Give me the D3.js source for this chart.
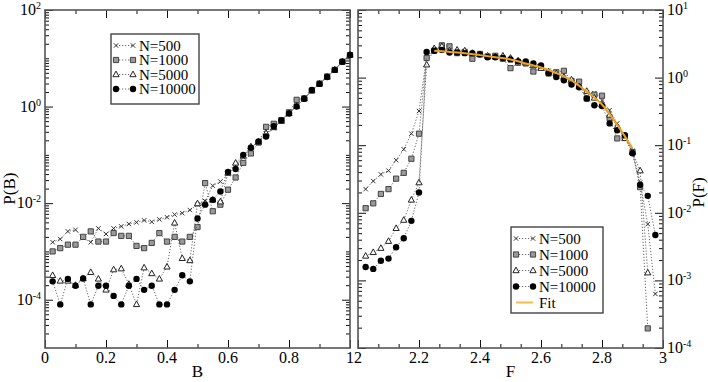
<!DOCTYPE html>
<html>
<head>
<meta charset="utf-8">
<script src="https://cdn.jsdelivr.net/npm/d3@7"></script>
<style>
  html, body { margin: 0; padding: 0; background: #fff; }
  svg { display: block; }
  .axis line { stroke: #111; stroke-width: 1; }
</style>
</head>
<body>
<script>
// ---- left panel: P(B) ----
const B = [0.025, 0.05, 0.075, 0.1, 0.125, 0.15, 0.175, 0.2, 0.225, 0.25,
           0.275, 0.3, 0.325, 0.35, 0.375, 0.4, 0.425, 0.45, 0.475, 0.5,
           0.525, 0.55, 0.575, 0.6, 0.625, 0.65, 0.675, 0.7, 0.725, 0.75,
           0.775, 0.8, 0.825, 0.85, 0.875, 0.9, 0.925, 0.95, 0.975, 1.0];
const PB_500 = [1.55e-3, 1.8e-3, 2.6e-3, 2.8e-3, 1.9e-3, 1.55e-3, 3.0e-3, 2.3e-3, 3.0e-3, 3.3e-3,
                3.7e-3, 4.0e-3, 4.4e-3, 4.1e-3, 4.6e-3, 5.1e-3, 5.8e-3, 6.2e-3, 7.2e-3, 9.3e-3,
                1.1e-2, 2.3e-2, 2.8e-2, 4.0e-2, 6.0e-2, 8.9e-2, 0.14, 0.19, 0.28, 0.355,
                0.50, 0.71, 1.05, 1.45, 2.15, 2.95, 4.1, 5.9, 8.5, 11.7];
const PB_1000 = [1.0e-3, 1.17e-3, 1.38e-3, 1.38e-3, 2.0e-3, 2.6e-3, 1.6e-3, 1.6e-3, 2.4e-3, 2.1e-3,
                 2.1e-3, 1.3e-3, 1.17e-3, 1.5e-3, 2.4e-3, 1.6e-3, 2.0e-3, 1.6e-3, 2.0e-3, 3.2e-3,
                 2.6e-2, 6.8e-3, 9.3e-3, 1.9e-2, 3.4e-2, 6.8e-2, 0.107, 0.18, 0.38, 0.44,
                 0.52, 0.76, 1.38, 1.48, 2.15, 3.0, 4.2, 5.75, 8.5, 11.7];
const PB_5000 = [3.2e-4, 2.45e-4, 2.45e-4, 2.0e-4, 2.75e-4, 3.7e-4, 2.7e-4, 1.6e-4, 4.2e-4, 4.4e-4,
                 2.1e-4, 8e-5, 4.6e-4, 3.5e-4, 2.7e-4, 4.8e-4, 3.9e-3, 7.2e-4, 6.5e-4, 9.8e-3,
                 1.0e-2, 1.17e-2, 1.07e-2, 4.2e-2, 6.8e-2, 9.5e-2, 0.148, 0.186, 0.28, 0.37,
                 0.50, 0.72, 1.02, 1.45, 2.15, 2.95, 4.1, 5.75, 8.5, 11.7];
const PB_10000 = [2.4e-4, 8e-5, 2.7e-4, 1.95e-4, 2.75e-4, 8e-5, 1.95e-4, 1.95e-4, 1.2e-4, 8e-5,
                  1.95e-4, 2.7e-4, 1.6e-4, 1.95e-4, 8e-5, 8e-5, 1.6e-4, 3.2e-4, 2.4e-4, 4.8e-3,
                  9.3e-3, 1.17e-2, 1.74e-2, 4.4e-2, 5.1e-2, 0.10, 0.14, 0.19, 0.24, 0.39,
                  0.52, 0.72, 1.0, 1.45, 2.2, 2.95, 4.1, 5.75, 8.5, 11.7];

// ---- right panel: P(F) ----
const F = [2.025, 2.05, 2.075, 2.1, 2.125, 2.15, 2.175, 2.2, 2.225, 2.25,
           2.275, 2.3, 2.325, 2.35, 2.375, 2.4, 2.425, 2.45, 2.475, 2.5,
           2.525, 2.55, 2.575, 2.6, 2.625, 2.65, 2.675, 2.7, 2.725, 2.75,
           2.775, 2.8, 2.825, 2.85, 2.875, 2.9, 2.925, 2.95, 2.975];
const PF_500 = [0.0224, 0.0295, 0.037, 0.042, 0.060, 0.087, 0.148, 0.32, 2.0, 2.63,
                2.75, 2.4, 2.4, 2.3, 2.2, 2.15, 2.1, 2.0, 1.95, 1.8,
                1.74, 1.62, 1.48, 1.41, 1.26, 1.12, 1.0, 0.89, 0.76, 0.60,
                0.59, 0.46, 0.33, 0.21, 0.14, 0.083, 0.028, 0.0068, 0.00063];
const PF_1000 = [0.0117, 0.0138, 0.019, 0.0224, 0.032, 0.039, 0.063, 0.148, 1.95, 2.5,
                 3.0, 2.9, 2.3, 2.4, 1.9, 2.24, 2.05, 2.1, 1.9, 1.38,
                 1.66, 1.62, 1.23, 1.41, 1.15, 1.2, 1.26, 0.89, 0.87, 0.49,
                 0.56, 0.54, 0.25, 0.126, 0.13, 0.079, 0.024, 0.000195];
const PF_5000 = [0.0023, 0.0026, 0.0030, 0.0038, 0.0059, 0.0078, 0.0155, 0.028, 1.55, 2.7,
                 2.9, 2.5, 2.57, 2.5, 2.3, 2.2, 2.1, 2.05, 2.1, 1.95,
                 1.78, 1.66, 1.51, 1.38, 1.23, 1.15, 1.02, 0.93, 0.74, 0.63,
                 0.50, 0.40, 0.28, 0.19, 0.126, 0.079, 0.042, 0.0013];
const PF_10000 = [0.00158, 0.00148, 0.00195, 0.0021, 0.0031, 0.0042, 0.0076, 0.020, 2.4, 2.5,
                  2.57, 2.35, 2.35, 2.3, 2.3, 2.2, 2.0, 2.0, 1.95, 1.86,
                  1.74, 1.74, 1.62, 1.51, 1.17, 1.02, 0.91, 0.79, 0.72, 0.49,
                  0.39, 0.38, 0.21, 0.166, 0.14, 0.076, 0.026, 0.0178, 0.0047];
const FIT_F = [2.25, 2.3, 2.35, 2.4, 2.45, 2.5, 2.55, 2.6, 2.65, 2.7, 2.75, 2.8, 2.85, 2.9];
const FIT_P = [2.5, 2.4, 2.3, 2.15, 2.0, 1.85, 1.62, 1.41, 1.17, 0.91, 0.62, 0.40, 0.20, 0.09];

const SERIES_NAMES = ['N=500', 'N=1000', 'N=5000', 'N=10000'];
const FIT_NAME = 'Fit';
const X_TICKS_B = [0, 0.2, 0.4, 0.6, 0.8, 1];
const X_TICKS_F = [2, 2.2, 2.4, 2.6, 2.8, 3];
const Y_EXP_B = [-4, -2, 0, 2];
const Y_EXP_F = [-4, -3, -2, -1, 0, 1];

const W = 708, H = 382;
const TOP = 10, BOTTOM = 348;
const SERIF = "'Liberation Serif'";

const svg = d3.select('body').append('svg').attr('width', W).attr('height', H);
svg.append('rect').attr('width', W).attr('height', H).attr('fill', '#fff');

const xB = d3.scaleLinear().domain([0, 1]).range([45, 350]);
const yB = d3.scaleLog().domain([1e-5, 1e2]).range([BOTTOM, TOP]);
const xF = d3.scaleLinear().domain([2, 3]).range([358, 663]);
const yF = d3.scaleLog().domain([1e-4, 10]).range([BOTTOM, TOP]);

// marker shapes
const SHAPES = [
  {d: 'M-2.2,-2.2L2.2,2.2M-2.2,2.2L2.2,-2.2', fill: 'none', stroke: '#333', sw: 1},
  {d: 'M-2.6,-2.6h5.2v5.2h-5.2z', fill: '#9a9a9a', stroke: '#444', sw: 1},
  {d: 'M0,-3.4L3.1,2.2L-3.1,2.2Z', fill: '#fff', stroke: '#222', sw: 1},
  {d: 'M3.2,0A3.2,3.2 0 1,1 -3.2,0A3.2,3.2 0 1,1 3.2,0Z', fill: '#000', stroke: 'none', sw: 0}
];

function minorLog(lo, hi) {
  const out = [];
  for (let e = lo; e < hi; e++)
    for (let m = 2; m <= 9; m++) out.push(+(m * Math.pow(10, e)).toPrecision(3));
  return out;
}
function minorLin(lo, hi, step) {
  const out = [];
  for (let v = lo; v <= hi + 1e-9; v += step) out.push(+v.toFixed(4));
  return out;
}

function txt(sel, size) {
  return sel.attr('font-size', size).style('font-family', SERIF).attr('fill', '#000');
}

function tickAxis(gen, tx, ty, vals, size) {
  svg.append('g')
    .attr('class', 'axis')
    .attr('transform', `translate(${tx},${ty})`)
    .call(gen.tickValues(vals).tickSize(size).tickFormat(''))
    .call(g => g.select('.domain').remove());
}

function drawFrame(x, y, xMajor, xMinor, yMajor, yMinor) {
  const [x0, x1] = x.range();
  tickAxis(d3.axisBottom(x), 0, BOTTOM, xMajor, -8);
  tickAxis(d3.axisBottom(x), 0, BOTTOM, xMinor, -4);
  tickAxis(d3.axisTop(x), 0, TOP, xMajor, -8);
  tickAxis(d3.axisTop(x), 0, TOP, xMinor, -4);
  tickAxis(d3.axisLeft(y), x0, 0, yMajor, -8);
  tickAxis(d3.axisLeft(y), x0, 0, yMinor, -4);
  tickAxis(d3.axisRight(y), x1, 0, yMajor, -8);
  tickAxis(d3.axisRight(y), x1, 0, yMinor, -4);
  svg.append('rect')
    .attr('x', x0).attr('y', TOP)
    .attr('width', x1 - x0).attr('height', BOTTOM - TOP)
    .attr('fill', 'none').attr('stroke', '#555').attr('stroke-width', 1.6);
}

function drawSeries(x, y, xs, ys, shape) {
  const pts = xs.map((v, i) => [v, ys[i]]).filter(d => d[1] != null);
  svg.append('path').datum(pts)
    .attr('d', d3.line().x(d => x(d[0])).y(d => y(d[1])))
    .attr('fill', 'none').attr('stroke', '#666')
    .attr('stroke-width', 1).attr('stroke-dasharray', '1.2,1.8');
  svg.append('g').selectAll('path').data(pts).join('path')
    .attr('transform', d => `translate(${x(d[0])},${y(d[1])})`)
    .attr('d', shape.d).attr('fill', shape.fill)
    .attr('stroke', shape.stroke).attr('stroke-width', shape.sw);
}

function xLabels(x, ticks) {
  const fmt = d3.format('~g');
  txt(svg.append('g').selectAll('text').data(ticks).join('text'), 16)
    .attr('x', d => x(d)).attr('y', 363)
    .attr('text-anchor', 'middle')
    .text(d => fmt(d));
}

function yLabels(y, exps, xPos, anchor) {
  const t = txt(svg.append('g').selectAll('text').data(exps).join('text'), 16)
    .attr('x', xPos).attr('y', d => y(Math.pow(10, d)) + 5)
    .attr('text-anchor', anchor);
  t.append('tspan').text('10');
  t.append('tspan').attr('font-size', 10).attr('dy', -6).text(d => String(d));
}

function legend(x0, y0, w, h, rowH, fontSize, items) {
  const g = svg.append('g');
  g.append('rect').attr('x', x0).attr('y', y0).attr('width', w).attr('height', h)
    .attr('fill', '#fff').attr('stroke', '#444').attr('stroke-width', 1.4);
  items.forEach((it, i) => {
    const cy = y0 + 11.5 + i * rowH;
    const lx0 = x0 + 5, lx1 = x0 + 22;
    if (it.shape) {
      g.append('line').attr('x1', lx0).attr('x2', lx1).attr('y1', cy).attr('y2', cy)
        .attr('stroke', '#666').attr('stroke-dasharray', '1.2,1.8');
      [lx0, lx1].forEach(px => g.append('path').attr('transform', `translate(${px},${cy})`)
        .attr('d', it.shape.d).attr('fill', it.shape.fill)
        .attr('stroke', it.shape.stroke).attr('stroke-width', it.shape.sw));
    } else {
      g.append('line').attr('x1', lx0).attr('x2', lx1).attr('y1', cy).attr('y2', cy)
        .attr('stroke', it.color).attr('stroke-width', 2);
    }
    txt(g.append('text'), fontSize).attr('x', x0 + 28).attr('y', cy + 5).text(it.name);
  });
}

// ---- left panel ----
drawFrame(xB, yB, X_TICKS_B, minorLin(0.1, 0.9, 0.2),
          Y_EXP_B.map(e => Math.pow(10, e)), minorLog(-5, 2).concat([1e-3, 1e-1, 1e1]));
[PB_500, PB_1000, PB_5000, PB_10000].forEach((ys, i) => drawSeries(xB, yB, B, ys, SHAPES[i]));
xLabels(xB, X_TICKS_B);
yLabels(yB, Y_EXP_B, 41, 'end');
txt(svg.append('text'), 17).attr('x', xB(0.5)).attr('y', 377).attr('text-anchor', 'middle').text('B');
txt(svg.append('text'), 17).attr('transform', `translate(15,${yB(2e-2)}) rotate(-90)`)
  .attr('text-anchor', 'middle').text('P(B)');
legend(111, 34, 88, 70, 14.5, 15, SERIES_NAMES.map((n, i) => ({name: n, shape: SHAPES[i]})));

// ---- right panel ----
drawFrame(xF, yF, X_TICKS_F, [2.0667, 2.1333, 2.2667, 2.3333, 2.4667, 2.5333, 2.6667, 2.7333, 2.8667, 2.9333],
          Y_EXP_F.map(e => Math.pow(10, e)), minorLog(-4, 1));
[PF_500, PF_1000, PF_5000, PF_10000].forEach((ys, i) => drawSeries(xF, yF, F, ys, SHAPES[i]));
svg.append('path').datum(FIT_F.map((f, i) => [f, FIT_P[i]]))
  .attr('d', d3.line().curve(d3.curveMonotoneX).x(d => xF(d[0])).y(d => yF(d[1])))
  .attr('fill', 'none').attr('stroke', '#f0a020').attr('stroke-width', 2);
xLabels(xF, X_TICKS_F);
yLabels(yF, Y_EXP_F, 667, 'start');
txt(svg.append('text'), 17).attr('x', xF(2.5)).attr('y', 377).attr('text-anchor', 'middle').text('F');
txt(svg.append('text'), 17).attr('transform', `translate(704,${yF(2e-2)}) rotate(-90)`)
  .attr('text-anchor', 'middle').text('P(F)');
legend(511, 227, 92, 86, 16, 15,
  SERIES_NAMES.map((n, i) => ({name: n, shape: SHAPES[i]})).concat([{name: FIT_NAME, color: '#f5b84a'}]));
</script>
</body>
</html>
